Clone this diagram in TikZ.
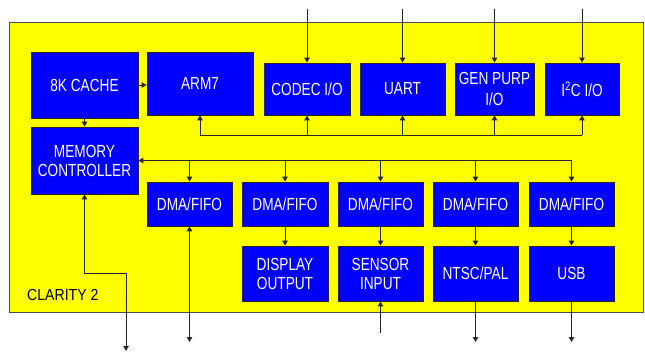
\documentclass[tikz,border=0pt]{standalone}
\usepackage{fontspec}
\newfontfamily\boxfont[FakeStretch=0.78]{Liberation Sans}
\newfontfamily\lblfont[FakeStretch=0.88]{Liberation Sans}
\usetikzlibrary{arrows.meta}
\definecolor{chipyellow}{RGB}{255,255,0}
\definecolor{blockblue}{RGB}{0,0,255}
\begin{document}
\begin{tikzpicture}[x=1pt,y=-1pt,
  blk/.style={draw=black!85,line width=0.9pt,fill=blockblue,text=white,inner sep=0pt,
    align=center,font=\boxfont\fontsize{17.5}{19}\selectfont},
  wire/.style={draw=black!85,line width=1pt},
  arr/.style={wire,-{Triangle[length=5pt,width=5.5pt]}},
  darr/.style={wire,{Triangle[length=5pt,width=5.5pt]}-{Triangle[length=5pt,width=5.5pt]}}]
\useasboundingbox (0,0) rectangle (645,353);
\node[fill=chipyellow,draw=black!70,line width=1pt,minimum width=634pt,minimum height=289pt,inner sep=0pt] (chip) at (326,167.5) {};
% top row
\node[blk,minimum width=107pt,minimum height=66pt] (cache) at (84.5,85) {8K CACHE};
\node[blk,minimum width=106pt,minimum height=63pt] (arm) at (200,83.5) {ARM7};
\node[blk,minimum width=86pt,minimum height=52pt] (codec) at (307,89) {CODEC I/O};
\node[blk,minimum width=85pt,minimum height=52pt] (uart) at (402.5,89) {UART};
\node[blk,minimum width=79pt,minimum height=52pt,font=\boxfont\fontsize{17.5}{20.5}\selectfont] (gpio) at (494.5,89) {GEN PURP\\I/O};
\node[blk,minimum width=74pt,minimum height=52pt] (i2c) at (582,89) {I\textsuperscript{2}C I/O};
% memory controller
\node[blk,minimum width=107pt,minimum height=67pt] (mc) at (84.5,160.5) {MEMORY\\CONTROLLER};
% dma row
\node[blk,minimum width=85pt,minimum height=44pt] (dma1) at (189.5,204) {DMA/FIFO};
\node[blk,minimum width=86pt,minimum height=44pt] (dma2) at (285,204) {DMA/FIFO};
\node[blk,minimum width=85pt,minimum height=44pt] (dma3) at (380.5,204) {DMA/FIFO};
\node[blk,minimum width=85pt,minimum height=44pt] (dma4) at (475.5,204) {DMA/FIFO};
\node[blk,minimum width=85pt,minimum height=44pt] (dma5) at (571.5,204) {DMA/FIFO};
% bottom row
\node[blk,minimum width=86pt,minimum height=55pt] (disp) at (285,273.5) {DISPLAY\\OUTPUT};
\node[blk,minimum width=85pt,minimum height=55pt] (sens) at (380.5,273.5) {SENSOR\\INPUT};
\node[blk,minimum width=85pt,minimum height=55pt] (ntsc) at (475.5,273.5) {NTSC/PAL};
\node[blk,minimum width=85pt,minimum height=55pt] (usb) at (571.5,273.5) {USB};
% label
\node[anchor=base west,inner sep=0pt,font=\lblfont\fontsize{16}{18}\selectfont] (lbl) at (27,300) {CLARITY 2};
% coordinates
\coordinate (tcodec) at (307,9);
\coordinate (tuart) at (402.5,9);
\coordinate (tgpio) at (494.5,9);
\coordinate (ti2c) at (582,9);
\coordinate (busA) at (200,135);
\coordinate (busB) at (582,135);
\coordinate (busC) at (571.5,160.5);
\coordinate (d1out) at (189.5,342);
\coordinate (mcbend) at (126,273);
\coordinate (mcout) at (126,351);
\coordinate (sensin) at (380.5,333);
\coordinate (ntscout) at (475.5,342);
\coordinate (usbout) at (571.5,342);
% top inputs
\draw[arr] (tcodec) -- (codec.north);
\draw[arr] (tuart) -- (uart.north);
\draw[arr] (tgpio) -- (gpio.north);
\draw[arr] (ti2c) -- (i2c.north);
% bus 1
\draw[wire] (busA) -- (busB);
\draw[arr] (busA) -- (arm.south);
\draw[arr] (codec.south |- busA) -- (codec.south);
\draw[arr] (uart.south |- busA) -- (uart.south);
\draw[arr] (gpio.south |- busA) -- (gpio.south);
\draw[arr] (busB) -- (i2c.south);
% cache links
\draw[arr] (cache.east) -- (cache.east -| arm.west);
\draw[arr] (cache.south) -- (mc.north);
% bus 2
\draw[arr] (busC) -- (mc.east);
\draw[arr] (dma1.north |- busC) -- (dma1.north);
\draw[arr] (dma2.north |- busC) -- (dma2.north);
\draw[arr] (dma3.north |- busC) -- (dma3.north);
\draw[arr] (dma4.north |- busC) -- (dma4.north);
\draw[arr] (busC) -- (dma5.north);
% dma to devices
\draw[arr] (dma2.south) -- (disp.north);
\draw[arr] (dma3.south) -- (sens.north);
\draw[arr] (dma4.south) -- (ntsc.north);
\draw[arr] (dma5.south) -- (usb.north);
% external
\draw[darr] (dma1.south) -- (d1out);
\draw[darr] (mc.south) |- (mcbend) -- (mcout);
\draw[arr] (sensin) -- (sens.south);
\draw[arr] (ntsc.south) -- (ntscout);
\draw[arr] (usb.south) -- (usbout);
\end{tikzpicture}
\end{document}
